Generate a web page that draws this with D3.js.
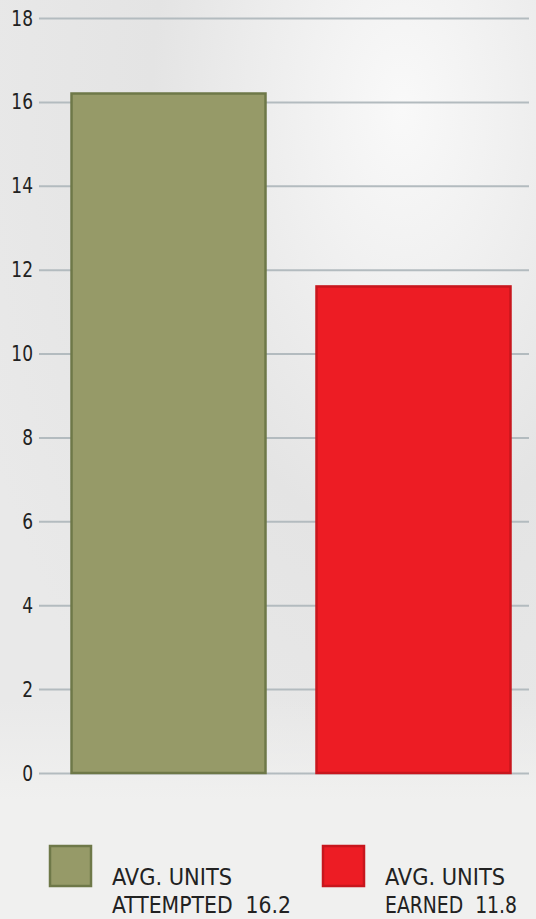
<!DOCTYPE html>
<html>
<head>
<meta charset="utf-8">
<script src="https://cdn.jsdelivr.net/npm/d3@7.9.0/dist/d3.min.js"></script>
<style>
  html, body { margin: 0; padding: 0; background: #efefef; }
  svg { display: block; }
  text { font-family: "DejaVu Sans Condensed", "DejaVu Sans", sans-serif; font-stretch: condensed; fill: #222; }
</style>
</head>
<body>
<svg id="chart" width="536" height="919"></svg>
<script>
const categories = ['AVG. UNITS ATTEMPTED', 'AVG. UNITS EARNED'];
const values = [16.2, 11.6];
const valueLabels = ['16.2', '11.8'];
const tickValues = [0, 2, 4, 6, 8, 10, 12, 14, 16, 18];
const colors = ['#969a68', '#ed1c24'];
const strokes = ['#6e7848', '#c8161d'];

const svg = d3.select('#chart');
const width = 536, height = 919;

// faded backdrop
const defs = svg.append('defs');
const grad = defs.append('radialGradient').attr('id', 'bg').attr('cx', '75%').attr('cy', '12%').attr('r', '85%');
grad.append('stop').attr('offset', '0%').attr('stop-color', '#f9f9f9');
grad.append('stop').attr('offset', '55%').attr('stop-color', '#e4e4e4');
grad.append('stop').attr('offset', '100%').attr('stop-color', '#e9e9e9');
const fade = defs.append('linearGradient').attr('id', 'fade').attr('x1', 0).attr('x2', 0).attr('y1', 0).attr('y2', 1);
fade.append('stop').attr('offset', '0%').attr('stop-color', '#f0f0ef').attr('stop-opacity', 0);
fade.append('stop').attr('offset', '100%').attr('stop-color', '#f0f0ef').attr('stop-opacity', 1);
svg.append('rect').attr('width', width).attr('height', height).attr('fill', 'url(#bg)');
svg.append('rect').attr('y', 700).attr('width', width).attr('height', 100).attr('fill', 'url(#fade)');
svg.append('rect').attr('y', 799).attr('width', width).attr('height', height - 799).attr('fill', '#f0f0ef');

const y = d3.scaleLinear().domain([0, 18]).range([773, 18]);
const x = d3.scaleBand().domain(categories).range([46, 536]).paddingInner(0.2).paddingOuter(0.1);

// gridlines + tick labels
const axis = svg.append('g')
  .attr('transform', 'translate(39,0)')
  .call(d3.axisLeft(y).tickValues(tickValues).tickSize(-490).tickPadding(7).tickFormat(d3.format('d')));
axis.select('.domain').remove();
axis.selectAll('line').attr('stroke', '#b3bbbf').attr('stroke-width', 2);
axis.selectAll('text')
  .attr('font-size', 22)
  .attr('fill', '#222')
  .attr('transform', 'scale(0.86,1)')
  .style('font-family', '"DejaVu Sans Condensed", "DejaVu Sans", sans-serif');

// bars
svg.append('g').selectAll('rect')
  .data(values)
  .join('rect')
  .attr('x', (d, i) => x(categories[i]) + 1)
  .attr('y', d => y(d))
  .attr('width', x.bandwidth() - 2)
  .attr('height', d => y(0) - y(d))
  .attr('fill', (d, i) => colors[i])
  .attr('stroke', (d, i) => strokes[i])
  .attr('stroke-width', 2.5);

// legend
const legendX = [49, 322];
const line2Width = [179, 132];
const legend = svg.append('g').selectAll('g')
  .data(categories)
  .join('g')
  .attr('transform', (d, i) => `translate(${legendX[i]},845)`);
legend.append('rect')
  .attr('x', 1).attr('y', 1)
  .attr('width', 41).attr('height', 40)
  .attr('fill', (d, i) => colors[i])
  .attr('stroke', (d, i) => strokes[i])
  .attr('stroke-width', 2.5);
legend.append('text')
  .attr('x', 63).attr('y', 40)
  .attr('font-size', 23)
  .attr('textLength', 120)
  .attr('lengthAdjust', 'spacingAndGlyphs')
  .text('AVG. UNITS');
legend.append('text')
  .attr('x', 63).attr('y', 68)
  .attr('font-size', 23)
  .attr('xml:space', 'preserve')
  .attr('textLength', (d, i) => line2Width[i])
  .attr('lengthAdjust', 'spacingAndGlyphs')
  .text((d, i) => d.replace('AVG. UNITS ', '') + '  ' + valueLabels[i]);
</script>
</body>
</html>
